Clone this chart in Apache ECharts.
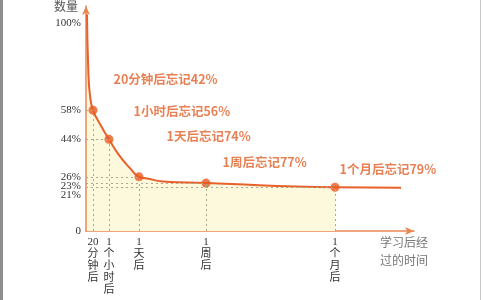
<!DOCTYPE html>
<html><head><meta charset="utf-8">
<script src="https://cdn.jsdelivr.net/npm/echarts@6/dist/echarts.min.js"></script>
<style>
html,body{margin:0;padding:0;background:#fff;}
#c{width:484px;height:300px;position:relative;}
.edgeL{position:absolute;left:0;top:0;width:3px;height:300px;background:#8e8e8e;}
.edgeR{position:absolute;left:480px;top:0;width:1px;height:300px;background:#c8c8c8;}
</style>
</head><body>
<div id="c"></div>
<div class="edgeL"></div><div class="edgeR"></div>
<script>
// ---- data ----
const categories = ['20\n分\n钟\n后', '1\n个\n小\n时\n后', '1\n天\n后', '1\n周\n后', '1\n个\n月\n后'];
const timePos = [7, 23, 53, 120, 249];          // schematic time positions of the marked points
const retention = [58, 44, 26, 23, 21];          // % remembered
const forgetLabels = ['20分钟后忘记42%', '1小时后忘记56%', '1天后忘记74%', '1周后忘记77%', '1个月后忘记79%'];
const yTicks = [0, 21, 23, 26, 44, 58, 100];
// curve
const curveX = [1, 2.3, 4, 7, 15, 23, 34, 44, 53, 61, 77, 101, 120, 249, 315];
const curveY = [104, 77, 65, 58, 50.5, 44, 35.8, 30.2, 26, 25.2, 23.8, 23.3, 23, 21, 20.8];

// ---- styles ----
const labelOffsets = [[11, -31], [15, -28], [18, -41], [7, -21], [-5, -18]];
const orange = '#e8602a';
const axisOrange = '#ea8650';

const curve = curveX.map((x, i) => [x, curveY[i]]);
const fillCurve = curve.filter(p => p[0] <= timePos[timePos.length - 1]);

const guideLines = [];
timePos.forEach((x, i) => {
  guideLines.push([{ coord: [0, retention[i]] }, { coord: [x, retention[i]] }]);
  guideLines.push([{ coord: [x, 0] }, { coord: [x, retention[i]] }]);
});

const chart = echarts.init(document.getElementById('c'), null, { renderer: 'canvas' });
chart.setOption({
  animation: false,
  backgroundColor: '#fff',
  grid: { left: 86, right: 70, top: 2, bottom: 69 },
  xAxis: {
    type: 'value', min: 0, max: 328,
    splitLine: { show: false },
    axisTick: { show: false },
    axisLine: { lineStyle: { color: axisOrange, width: 1.5 }, symbol: ['none', 'arrow'], symbolSize: [6, 9] },
    axisLabel: {
      customValues: timePos,
      formatter: v => categories[timePos.indexOf(v)] || '',
      fontFamily: 'Liberation Serif, Noto Sans CJK SC', fontSize: 11, color: '#333',
      lineHeight: 12, margin: 5, verticalAlign: 'top'
    },
    name: '学习后经\n过的时间', nameLocation: 'end', nameGap: -10,
    nameTextStyle: { align: 'center', verticalAlign: 'top', fontSize: 12, lineHeight: 18, color: '#777',
      fontFamily: 'Noto Sans CJK SC', padding: [2, 0, 0, 0] }
  },
  yAxis: {
    type: 'value', min: 0, max: 108,
    splitLine: { show: false },
    axisTick: { show: false },
    axisLine: { lineStyle: { color: axisOrange, width: 1.5 }, symbol: ['none', 'arrow'], symbolSize: [6, 9] },
    axisLabel: {
      customValues: yTicks,
      formatter: v => {
        if (v === 0) return '{z|0}';
        if (v === 23) return '{b|23%}';
        if (v === 21) return '{c|21%}';
        return v + '%';
      },
      rich: {
        z: { fontFamily: 'Liberation Serif', fontSize: 11, color: '#333', padding: [0, 0, 0, 0] },
        b: { fontFamily: 'Liberation Serif', fontSize: 11, color: '#333', padding: [7, 0, 0, 0] },
        c: { fontFamily: 'Liberation Serif', fontSize: 11, color: '#333', padding: [15, 0, 0, 0] }
      },
      fontFamily: 'Liberation Serif', fontSize: 11, color: '#333', margin: 5
    },
    name: '数量', nameLocation: 'end', nameGap: 0,
    nameTextStyle: { align: 'right', verticalAlign: 'middle', fontSize: 12, color: '#555',
      fontFamily: 'Noto Sans CJK SC', padding: [0, 8, 3, 0] }
  },
  series: [
    {
      type: 'line', data: fillCurve, smooth: 0.5, symbol: 'none',
      lineStyle: { width: 0, opacity: 0 }, areaStyle: { color: '#fcf9dc', opacity: 1 }, z: 1,
      markLine: {
        silent: true, symbol: 'none', label: { show: false },
        lineStyle: { type: [2, 3], color: '#aaa88e', width: 1 },
        data: guideLines
      }
    },
    {
      type: 'line', data: curve, smooth: 0.5, symbol: 'none',
      lineStyle: { color: orange, width: 2 }, z: 3
    },
    {
      type: 'scatter', symbolSize: 9, itemStyle: { color: '#e95a22' }, z: 4,
      data: timePos.map((x, i) => ({ value: [x, retention[i]], label: { offset: labelOffsets[i] } })),
      label: {
        show: true, position: 'right', distance: 5, align: 'left',
        formatter: p => forgetLabels[p.dataIndex],
        fontFamily: 'Noto Sans CJK SC', fontSize: 12.5, fontWeight: 'bold', color: '#e2622c'
      }
    }
  ]
});
</script>
</body></html>
